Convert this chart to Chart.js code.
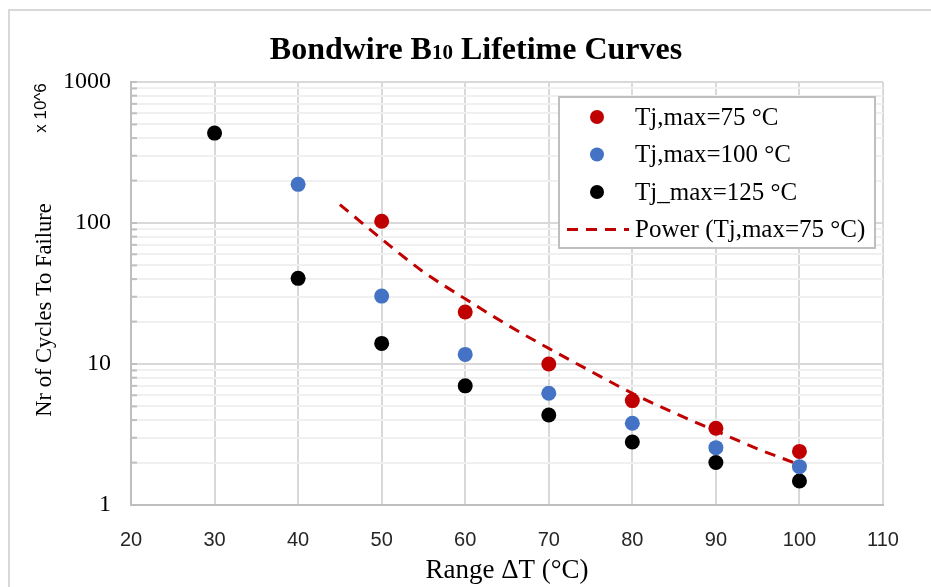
<!DOCTYPE html>
<html>
<head>
<meta charset="utf-8">
<script src="https://cdn.jsdelivr.net/npm/chart.js@4.4.1/dist/chart.umd.min.js"></script>
<style>
  html, body { margin: 0; padding: 0; background: #fff; }
  #wrap { width: 931px; height: 587px; }
</style>
</head>
<body>
<div id="wrap"><canvas id="myChart" width="931" height="587"></canvas></div>
<script>
// values (x 10^6 cycles)
const deltaT = [30, 40, 50, 60, 70, 80, 90, 100];
const tj75 = [null, null, 103, 23.4, 10.0, 5.5, 3.5, 2.4];
const tj100 = [null, 188, 30.3, 11.7, 6.2, 3.8, 2.55, 1.87];
const tj125 = [434, 40.5, 14.0, 7.0, 4.35, 2.8, 2.0, 1.48];

// points read along the dashed power trendline
const trendT = [45, 50, 55, 60, 65, 70, 75, 80, 85, 90, 95, 100];
const trend75 = [135, 77, 45, 29, 19, 12.9, 8.9, 6.2, 4.5, 3.35, 2.5, 1.93];

const xTicks = [20, 30, 40, 50, 60, 70, 80, 90, 100, 110];
const yMajor = [1, 10, 100, 1000];

const toPoints = (xs, ys) => xs.map((x, i) => ({ x, y: ys[i] })).filter(p => p.y !== null);

const serif = "'Liberation Serif', 'Times New Roman', serif";
const sans = "'Liberation Sans', Arial, sans-serif";

const decor = {
    id: "decor",
    beforeDraw(chart) {
        const c = chart.ctx;
        c.save();
        c.fillStyle = "#fff";
        c.fillRect(0, 0, chart.width, chart.height);
        // outer chart frame (only top and left edges are visible)
        c.strokeStyle = "#d9d9d9";
        c.lineWidth = 2;
        c.beginPath();
        c.moveTo(9, chart.height);
        c.lineTo(9, 10);
        c.lineTo(chart.width, 10);
        c.stroke();
        c.restore();
    },
    afterDraw(chart) {
        const c = chart.ctx;
        const area = chart.chartArea;
        const y = chart.scales.y;
        c.save();

        // little tick marks on the inside of the value axis
        c.strokeStyle = "#bfbfbf";
        c.lineWidth = 2;
        y.ticks.forEach(t => {
            const py = y.getPixelForValue(t.value);
            c.beginPath();
            c.moveTo(area.left, py);
            c.lineTo(area.left + 6, py);
            c.stroke();
        });

        // title with the subscript 10
        const big = "bold 32px " + serif, small = "bold 21px " + serif;
        const parts = [["Bondwire B", big], ["10", small], [" Lifetime Curves", big]];
        let total = 0;
        parts.forEach(p => { c.font = p[1]; total += c.measureText(p[0]).width; });
        let tx = 476 - total / 2;
        c.fillStyle = "#000";
        c.textBaseline = "alphabetic";
        c.textAlign = "left";
        parts.forEach(p => {
            c.font = p[1];
            c.fillText(p[0], tx, 59);
            tx += c.measureText(p[0]).width;
        });

        // value axis titles
        c.save();
        c.translate(45, 310);
        c.rotate(-Math.PI / 2);
        c.textAlign = "center";
        c.textBaseline = "middle";
        c.font = "22.5px " + serif;
        c.fillText("Nr of Cycles To Failure", 0, 0);
        c.restore();

        c.save();
        c.translate(41, 108);
        c.rotate(-Math.PI / 2);
        c.textAlign = "center";
        c.textBaseline = "middle";
        c.font = "17px " + sans;
        c.fillText("x 10^6", 0, 0);
        c.restore();

        // legend box inside the plot
        const lx = area.left + 428, ly = area.top + 15, lw = 316, lh = 151;
        c.fillStyle = "#fff";
        c.fillRect(lx, ly, lw, lh);
        c.strokeStyle = "#bfbfbf";
        c.lineWidth = 2;
        c.strokeRect(lx, ly, lw, lh);
        c.font = "25px " + serif;
        c.textBaseline = "middle";
        chart.data.datasets.forEach((ds, i) => {
            const ry = ly + 20 + i * 37.5;
            if (ds.showLine) {
                c.strokeStyle = ds.borderColor;
                c.lineWidth = 3;
                c.setLineDash(ds.borderDash);
                c.beginPath();
                c.moveTo(lx + 8, ry);
                c.lineTo(lx + 70, ry);
                c.stroke();
                c.setLineDash([]);
            } else {
                c.fillStyle = ds.backgroundColor;
                c.beginPath();
                c.arc(lx + 38, ry, 7, 0, Math.PI * 2);
                c.fill();
            }
            c.fillStyle = "#000";
            c.fillText(ds.label, lx + 76, ry + 1);
        });
        c.restore();
    }
};

new Chart(document.getElementById("myChart"), {
    type: "scatter",
    data: {
        datasets: [
            {
                label: "Tj,max=75 °C",
                data: toPoints(deltaT, tj75),
                backgroundColor: "#c00000",
                borderWidth: 0,
                pointRadius: 7.5,
                order: 1
            },
            {
                label: "Tj,max=100 °C",
                data: toPoints(deltaT, tj100),
                backgroundColor: "#4472c4",
                borderWidth: 0,
                pointRadius: 7.5,
                order: 2
            },
            {
                label: "Tj_max=125 °C",
                data: toPoints(deltaT, tj125),
                backgroundColor: "#000000",
                borderWidth: 0,
                pointRadius: 7.5,
                order: 3
            },
            {
                label: "Power (Tj,max=75 °C)",
                data: toPoints(trendT, trend75),
                showLine: true,
                borderColor: "#c00000",
                backgroundColor: "#c00000",
                borderWidth: 3,
                borderDash: [11, 8],
                pointRadius: 0,
                cubicInterpolationMode: "monotone",
                order: 0
            }
        ]
    },
    options: {
        responsive: false,
        animation: false,
        devicePixelRatio: 1,
        layout: { padding: { top: 82, right: 48, left: 0, bottom: 0 } },
        plugins: {
            legend: { display: false },
            title: { display: false },
            tooltip: { enabled: false }
        },
        scales: {
            x: {
                type: "linear",
                min: 20,
                max: 110,
                afterBuildTicks: s => { s.ticks = xTicks.map(v => ({ value: v })); },
                afterFit: s => { s.height = 82; },
                ticks: {
                    autoSkip: false,
                    maxRotation: 0,
                    padding: 23,
                    color: "#262626",
                    font: { family: sans, size: 20 }
                },
                grid: { color: "#d9d9d9", lineWidth: 2, drawTicks: false },
                border: { color: "#bfbfbf", width: 2 },
                title: {
                    display: true,
                    text: "Range ΔT (°C)",
                    color: "#000",
                    padding: 0,
                    font: { family: serif, size: 27 }
                }
            },
            y: {
                type: "logarithmic",
                min: 1,
                max: 1000,
                afterBuildTicks: s => {
                    const t = [];
                    yMajor.forEach((m, i) => {
                        if (i === yMajor.length - 1) { t.push({ value: m }); return; }
                        for (let k = 1; k < 10; k++) t.push({ value: m * k });
                    });
                    s.ticks = t;
                },
                afterFit: s => { s.width = 131; },
                ticks: {
                    autoSkip: false,
                    padding: 20,
                    color: "#000",
                    font: { family: serif, size: 24 },
                    callback: v => (yMajor.includes(v) ? String(v) : "")
                },
                grid: {
                    color: ctx => (yMajor.includes(ctx.tick && ctx.tick.value) ? "#d9d9d9" : "#f0f0f0"),
                    lineWidth: 2,
                    drawTicks: false
                },
                border: { color: "#bfbfbf", width: 2 }
            }
        }
    },
    plugins: [decor]
});
</script>
</body>
</html>
